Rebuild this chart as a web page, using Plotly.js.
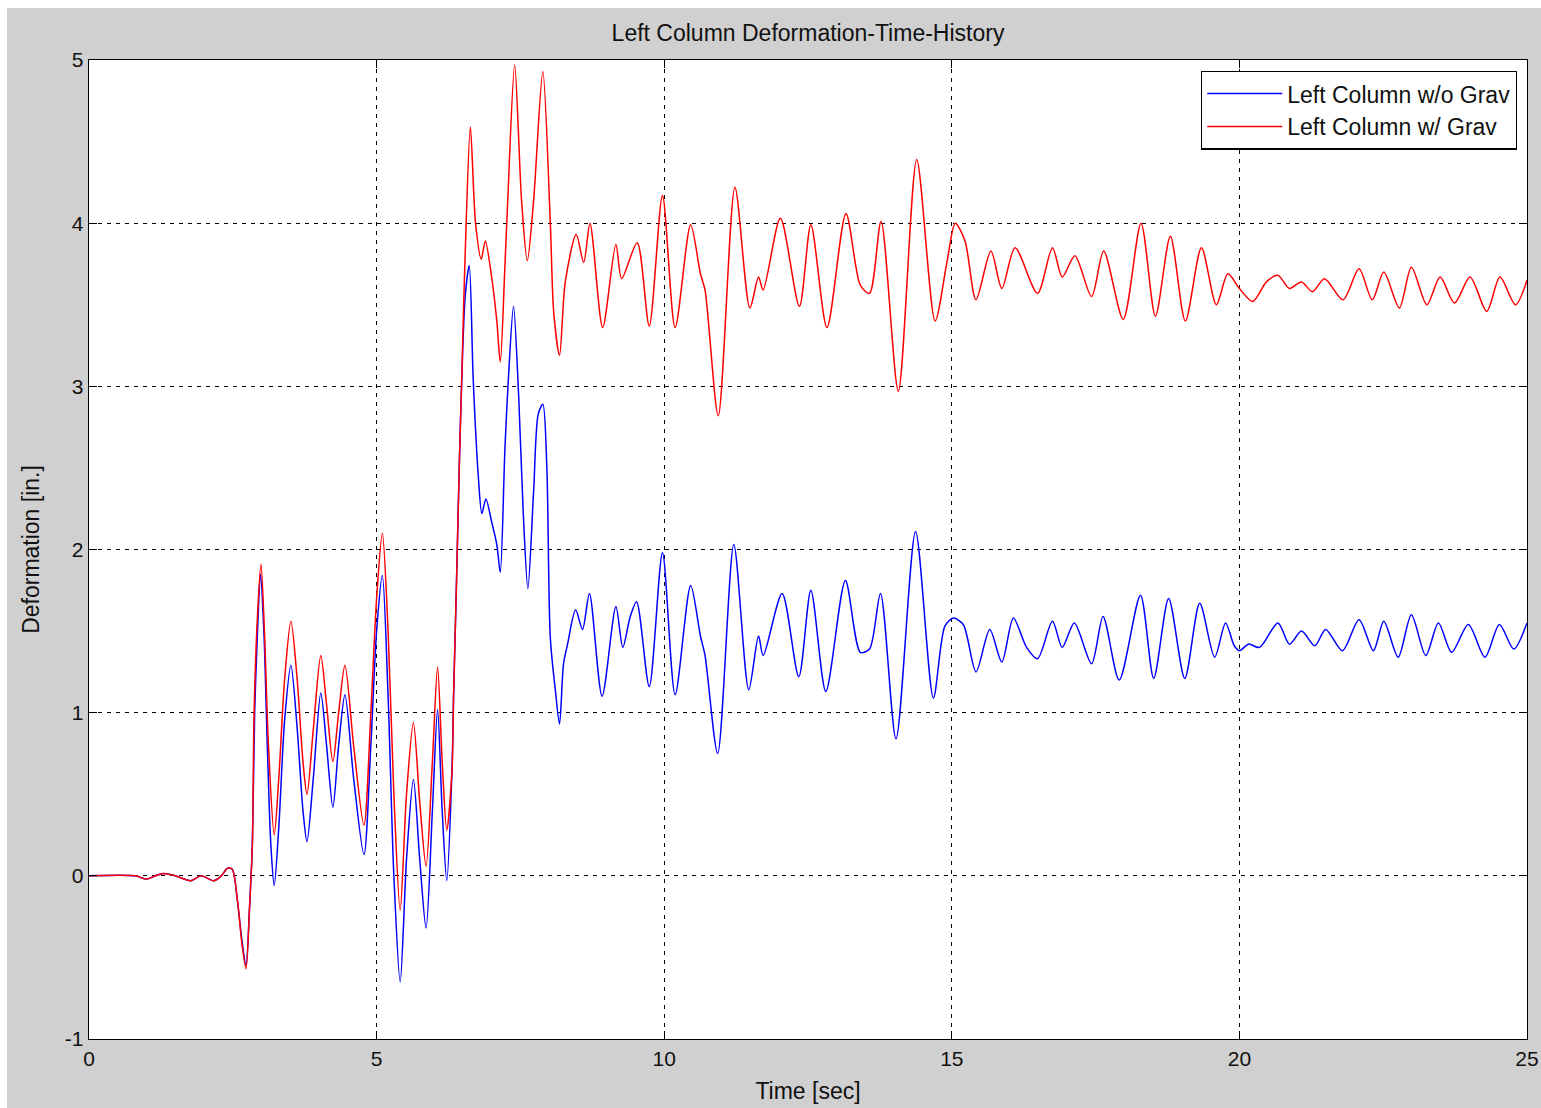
<!DOCTYPE html>
<html>
<head>
<meta charset="utf-8">
<script src="https://cdn.plot.ly/plotly-3.0.1.min.js"></script>
<style>html,body{margin:0;padding:0;background:#fff;}#chart{width:1541px;height:1108px;}</style>
</head>
<body>
<div id="chart"></div>
<script>
// Time [sec] and deformation [in.]
const timeNoGrav = [0,0.8,1.0,1.15,1.3,1.5,1.77,1.95,2.17,2.3,2.41,2.49,2.58,2.66,2.73,2.79,2.84,2.88,2.93,2.98,3.04,3.1,3.16,3.22,3.3,3.4,3.51,3.62,3.72,3.79,3.9,4.03,4.13,4.24,4.34,4.45,4.6,4.78,4.9,5.0,5.1,5.2,5.3,5.41,5.52,5.64,5.75,5.86,5.97,6.06,6.14,6.22,6.31,6.34,6.39,6.44,6.48,6.54,6.61,6.68,6.77,6.83,6.90,7.0,7.09,7.15,7.23,7.29,7.38,7.47,7.55,7.63,7.73,7.81,7.89,7.96,8.02,8.11,8.18,8.25,8.32,8.46,8.58,8.70,8.92,9.16,9.28,9.41,9.52,9.74,9.97,10.19,10.46,10.63,10.71,10.93,11.21,11.47,11.64,11.72,12.05,12.34,12.55,12.81,13.15,13.41,13.57,13.76,14.03,14.37,14.68,14.88,15.03,15.2,15.42,15.66,15.87,16.07,16.30,16.49,16.75,16.92,17.13,17.43,17.63,17.91,18.28,18.51,18.77,19.05,19.31,19.57,19.76,19.91,20.0,20.16,20.35,20.67,20.87,21.08,21.31,21.50,21.79,22.08,22.33,22.51,22.76,22.99,23.24,23.46,23.69,23.98,24.27,24.52,24.77,25.0];
const defNoGrav = [0,0,-0.02,0.0,0.015,0.0,-0.03,0.0,-0.03,0.0,0.046,0.04,-0.15,-0.4,-0.55,-0.2,0.2,1.0,1.5,1.85,1.5,0.8,0.2,-0.06,0.3,0.95,1.29,0.9,0.4,0.21,0.6,1.12,0.8,0.42,0.8,1.11,0.6,0.13,0.8,1.5,1.84,1.1,0.0,-0.65,0.1,0.59,0.1,-0.32,0.4,1.02,0.4,-0.03,0.64,1.13,1.81,2.55,3.04,3.55,3.74,3.04,2.44,2.22,2.31,2.17,2.03,1.86,2.61,3.04,3.49,2.94,2.22,1.76,2.36,2.83,2.89,2.50,1.46,1.13,0.93,1.30,1.42,1.63,1.51,1.73,1.10,1.65,1.40,1.59,1.68,1.16,1.98,1.11,1.78,1.47,1.35,0.75,2.03,1.14,1.47,1.35,1.73,1.22,1.75,1.13,1.81,1.37,1.39,1.73,0.84,2.11,1.09,1.53,1.58,1.54,1.25,1.51,1.31,1.58,1.40,1.33,1.56,1.40,1.55,1.30,1.59,1.20,1.72,1.21,1.70,1.21,1.67,1.34,1.55,1.41,1.38,1.42,1.40,1.55,1.42,1.50,1.41,1.51,1.38,1.57,1.38,1.56,1.34,1.60,1.35,1.55,1.37,1.54,1.34,1.54,1.39,1.55];

const timeGrav = [0,0.8,1.0,1.15,1.3,1.5,1.77,1.95,2.17,2.3,2.41,2.49,2.58,2.66,2.73,2.79,2.84,2.87,2.93,2.99,3.05,3.12,3.22,3.3,3.4,3.51,3.62,3.72,3.79,3.9,4.03,4.13,4.24,4.34,4.45,4.6,4.78,4.9,5.0,5.1,5.2,5.3,5.41,5.52,5.64,5.75,5.86,5.97,6.06,6.14,6.22,6.31,6.34,6.39,6.44,6.48,6.51,6.54,6.63,6.72,6.82,6.89,7.0,7.09,7.15,7.23,7.28,7.40,7.52,7.62,7.73,7.89,8.02,8.08,8.18,8.28,8.47,8.60,8.71,8.93,9.16,9.26,9.53,9.74,9.97,10.19,10.46,10.63,10.71,10.94,11.23,11.49,11.64,11.72,12.02,12.35,12.55,12.83,13.16,13.41,13.57,13.77,14.07,14.39,14.71,14.92,15.06,15.23,15.42,15.68,15.87,16.10,16.49,16.75,16.92,17.14,17.43,17.64,17.98,18.29,18.54,18.80,19.06,19.34,19.60,19.80,20.0,20.23,20.47,20.67,20.87,21.08,21.27,21.48,21.80,22.08,22.31,22.51,22.78,22.99,23.26,23.49,23.74,24.01,24.30,24.53,24.80,25.0];
const defGrav = [0,0,-0.02,0,0.015,0,-0.03,0,-0.03,0,0.046,0.04,-0.15,-0.42,-0.57,-0.2,0.19,1.0,1.6,1.91,1.5,0.8,0.25,0.6,1.2,1.56,1.2,0.7,0.50,0.9,1.35,1.05,0.70,1.0,1.29,0.8,0.31,1.0,1.7,2.10,1.5,0.5,-0.21,0.5,0.94,0.45,0.06,0.7,1.28,0.7,0.28,0.64,1.13,1.81,2.55,3.04,3.45,3.81,4.59,4.0,3.78,3.89,3.67,3.40,3.15,3.73,4.14,4.97,4.14,3.77,4.14,4.93,4.0,3.45,3.19,3.64,3.93,3.76,4.0,3.36,3.87,3.66,3.88,3.37,4.17,3.36,3.99,3.69,3.59,2.82,4.22,3.48,3.67,3.59,4.03,3.49,3.99,3.36,4.06,3.62,3.57,4.01,2.97,4.39,3.40,3.77,4.0,3.89,3.53,3.83,3.60,3.85,3.57,3.85,3.67,3.80,3.55,3.83,3.41,4.0,3.43,3.92,3.40,3.85,3.50,3.69,3.60,3.52,3.64,3.68,3.60,3.64,3.58,3.66,3.53,3.72,3.53,3.70,3.48,3.73,3.50,3.67,3.51,3.67,3.46,3.67,3.50,3.65];

const seriesNames = ['Left Column w/o Grav', 'Left Column w/ Grav'];
const xTicks = [0, 5, 10, 15, 20, 25];
const yTicks = [-1, 0, 1, 2, 3, 4, 5];

const font = 'Liberation Sans, Arial, sans-serif';

const traces = [
  {x: timeNoGrav, y: defNoGrav, name: seriesNames[0], type: 'scatter', mode: 'lines',
   line: {color: '#0000ff', width: 1.5, shape: 'spline', smoothing: 0.8}},
  {x: timeGrav, y: defGrav, name: seriesNames[1], type: 'scatter', mode: 'lines',
   line: {color: '#ff0000', width: 1.5, shape: 'spline', smoothing: 0.8}}
];

const axisCommon = {
  showline: true, linecolor: '#000', linewidth: 1.3, mirror: 'ticks',
  ticks: 'inside', ticklen: 8, tickcolor: '#000', tickwidth: 1,
  showgrid: true, gridcolor: '#000', gridwidth: 1, griddash: '4px,5px',
  zeroline: false, tickfont: {family: font, size: 21, color: '#111'}
};

const layout = {
  width: 1541, height: 1108,
  paper_bgcolor: '#ffffff', plot_bgcolor: '#ffffff',
  margin: {l: 89, r: 14, t: 60, b: 69},
  title: {text: 'Left Column Deformation-Time-History', font: {family: font, size: 23, color: '#111'},
          x: 0.5, xref: 'paper', y: 1 - 33/1108, yanchor: 'middle'},
  xaxis: Object.assign({}, axisCommon, {range: [0, 25], tickvals: xTicks, ticktext: xTicks.map(String),
    title: {text: 'Time [sec]', font: {family: font, size: 23, color: '#111'}, standoff: 14}}),
  yaxis: Object.assign({}, axisCommon, {range: [-1, 5], tickvals: yTicks, ticktext: yTicks.map(String),
    title: {text: 'Deformation [in.]', font: {family: font, size: 23, color: '#111'}, standoff: 18}}),
  showlegend: true,
  legend: {x: 0.993, xanchor: 'right', y: 0.989, yanchor: 'top', bgcolor: '#ffffff',
           bordercolor: '#000', borderwidth: 1.3, font: {family: font, size: 23, color: '#111'},
           itemwidth: 75, tracegroupgap: 0},
  shapes: [
    {type: 'rect', xref: 'paper', yref: 'paper', x0: -0.057, x1: 1.02, y0: -0.08, y1: 1.0531,
     fillcolor: '#d0d0d0', line: {width: 0}, layer: 'below'},
    {type: 'rect', xref: 'paper', yref: 'paper', x0: 0, x1: 1, y0: 0, y1: 1,
     fillcolor: '#ffffff', line: {width: 0}, layer: 'below'}
  ]
};

Plotly.newPlot('chart', traces, layout, {staticPlot: true, displayModeBar: false});
</script>
</body>
</html>
